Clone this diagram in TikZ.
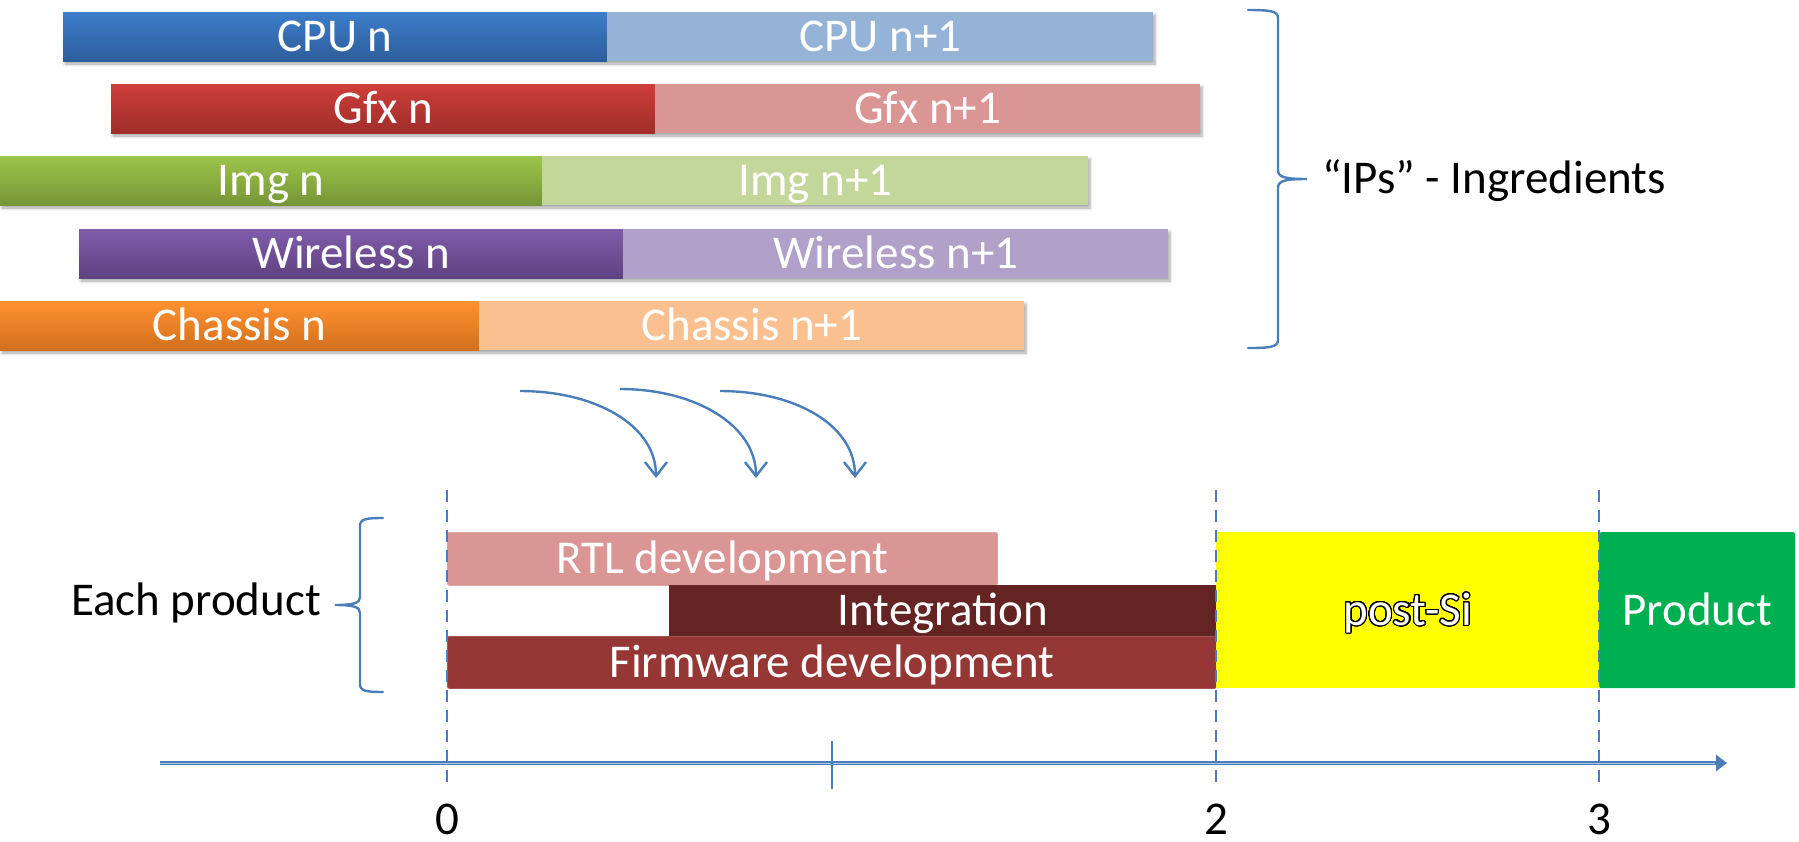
\documentclass[tikz,border=0pt]{standalone}
\usepackage{fontspec}
\setmainfont{Carlito}
\usepackage[copies]{contour}
\usetikzlibrary{shadows.blur,arrows.meta}

\definecolor{cpuT}{RGB}{61,125,202}   \definecolor{cpuB}{RGB}{45,93,155}   \definecolor{cpuL}{RGB}{149,179,215}
\definecolor{gfxT}{RGB}{205,62,58}    \definecolor{gfxB}{RGB}{160,45,42}   \definecolor{gfxL}{RGB}{218,150,148}
\definecolor{imgT}{RGB}{157,197,74}   \definecolor{imgB}{RGB}{118,149,55}  \definecolor{imgL}{RGB}{196,215,155}
\definecolor{wirT}{RGB}{128,92,170}   \definecolor{wirB}{RGB}{94,66,128}   \definecolor{wirL}{RGB}{177,160,199}
\definecolor{chaT}{RGB}{255,145,48}   \definecolor{chaB}{RGB}{210,112,28}  \definecolor{chaL}{RGB}{250,192,144}
\definecolor{rtlC}{RGB}{218,150,148}
\definecolor{intC}{RGB}{99,36,35}
\definecolor{fwC}{RGB}{149,55,53}
\definecolor{postC}{RGB}{255,255,0}
\definecolor{prodC}{RGB}{0,176,80}
\definecolor{lineblue}{RGB}{74,126,187}

\newcommand\bigsize{\fontsize{47}{52}\selectfont}
\contourlength{1.1pt}
\contournumber{32}

\tikzset{
  bar/.style={inner sep=0pt, text height=30pt, text depth=0pt,
    anchor=north west, text=white, font=\bigsize},
  oldbar/.style={bar, minimum height=49pt},
  rowshadow/.style={fill=white, blur shadow={shadow xshift=2pt, shadow yshift=-3pt,
    shadow blur radius=3pt, shadow opacity=35}},
  phase/.style={bar, rounded corners=2pt},
  label/.style={inner sep=0pt, text height=30pt, text depth=0pt, font=\bigsize, text=black},
  brace/.style={draw=lineblue, line width=2.4pt, line cap=round},
  flow/.style={draw=lineblue, line width=2.4pt,
    -{Straight Barb[length=14pt,width=22pt,line width=2.4pt]}},
  guide/.style={draw=lineblue, line width=1.8pt, dash pattern=on 12pt off 8pt},
}

\begin{document}
\begin{tikzpicture}[x=1pt,y=-1pt]
\useasboundingbox (0,0) rectangle (1799,841);

% ---------- IP rows: generation n and n+1 ----------
\fill[rowshadow] (63,12) rectangle (1153,61);
\node[oldbar, minimum width=544pt, top color=cpuT, bottom color=cpuB] (cpun) at (63,12) {CPU n};
\node[oldbar, minimum width=546pt, fill=cpuL] (cpun1) at (607,12) {CPU n+1};

\fill[rowshadow] (111,84) rectangle (1200,133);
\node[oldbar, minimum width=544pt, top color=gfxT, bottom color=gfxB] (gfxn) at (111,84) {Gfx n};
\node[oldbar, minimum width=545pt, fill=gfxL] (gfxn1) at (655,84) {Gfx n+1};

\fill[rowshadow] (0,156) rectangle (1088,205);
\node[oldbar, minimum width=542pt, top color=imgT, bottom color=imgB] (imgn) at (0,156) {Img n};
\node[oldbar, minimum width=546pt, fill=imgL] (imgn1) at (542,156) {Img n+1};

\fill[rowshadow] (79,229) rectangle (1168,278);
\node[oldbar, minimum width=544pt, top color=wirT, bottom color=wirB] (wirn) at (79,229) {Wireless n};
\node[oldbar, minimum width=545pt, fill=wirL] (wirn1) at (623,229) {Wireless n+1};

\fill[rowshadow] (0,301) rectangle (1024,350);
\node[oldbar, minimum width=479pt, top color=chaT, bottom color=chaB] (chan) at (0,301) {Chassis n};
\node[oldbar, minimum width=545pt, fill=chaL] (chan1) at (479,301) {Chassis n+1};

% right brace grouping the IP rows
\draw[brace] (1248,10) .. controls (1270,10) and (1278,11) .. (1278,18)
  -- (1278,170) .. controls (1278,177) and (1284,179) .. (1307,179)
  .. controls (1284,179) and (1278,181) .. (1278,188)
  -- (1278,340) .. controls (1278,347) and (1270,348) .. (1248,348);
\node[label, anchor=west] (ips) at (1322,178) {“IPs” - Ingredients};

% ---------- IPs flowing into the product ----------
\coordinate (s1) at (520,391);  \coordinate (e1) at (656,478);
\coordinate (s2) at (620,389);  \coordinate (e2) at (756,478);
\coordinate (s3) at (720,391);  \coordinate (e3) at (855,478);
\draw[flow] (s1) .. controls (595,391) and (656,425) .. (e1);
\draw[flow] (s2) .. controls (695,389) and (756,425) .. (e2);
\draw[flow] (s3) .. controls (795,391) and (855,425) .. (e3);

% ---------- product phases ----------
\node[phase, minimum width=550pt, minimum height=53pt, fill=rtlC, draw=rtlC!85!white, line width=0.8pt] (rtl) at (447,532) {RTL development};
\node[bar, minimum width=547pt, minimum height=51pt, fill=intC] (integ) at (669,585) {Integration};
\node[phase, minimum width=769pt, minimum height=52pt, fill=fwC, draw=fwC!85!white, line width=0.8pt] (fw) at (447,636) {Firmware development};
\node[bar, minimum width=383pt, minimum height=156pt, fill=postC] (postsi) at (1216,532) {\contour{black}{\textcolor{white}{post-Si}}};
\node[phase, minimum width=196pt, minimum height=156pt, fill=prodC] (product) at (1599,532) {Product};

% left brace grouping the phases
\draw[brace] (383,518) .. controls (366,518) and (360,519) .. (360,526)
  -- (360,597) .. controls (360,603) and (354,605) .. (335,605)
  .. controls (354,605) and (360,607) .. (360,613)
  -- (360,684) .. controls (360,691) and (366,692) .. (383,692);
\node[label, anchor=center] (each) at (196,600) {Each product};

% ---------- time axis ----------
\coordinate (t0top) at (447,490);  \coordinate (t0bot) at (447,789);
\coordinate (t2top) at (1216,490); \coordinate (t2bot) at (1216,789);
\coordinate (t3top) at (1599,490); \coordinate (t3bot) at (1599,789);
\draw[guide] (t0top) -- (t0bot);
\draw[guide] (t2top) -- (t2bot);
\draw[guide] (t3top) -- (t3bot);

\coordinate (axstart) at (160,763);
\coordinate (axend) at (1727,763);
\draw[lineblue, line width=3.6pt, -{Triangle[length=11pt,width=16pt]}] (axstart) -- (axend);
\draw[lineblue!45!white, line width=1pt] (160,763) -- (1715,763);

\coordinate (tickA) at (832,741);
\coordinate (tickB) at (832,789);
\draw[lineblue, line width=1.2pt] (tickA) -- (tickB);

\node[label] (l0) at (447,819) {0};
\node[label] (l2) at (1216,819) {2};
\node[label] (l3) at (1599,819) {3};
\end{tikzpicture}
\end{document}
